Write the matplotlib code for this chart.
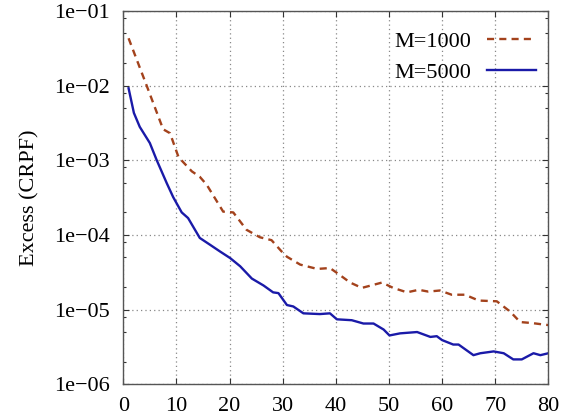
import matplotlib
matplotlib.use("Agg")
import matplotlib.pyplot as plt
from matplotlib.ticker import FuncFormatter, LogLocator

# values
x_m1000 = [1, 4.4, 7.5, 8.8, 10.4, 12.9, 14.4, 15.7, 18.8, 20.7, 23.2, 25.7, 27.9,
           29.8, 30.8, 33.3, 36.5, 38.9, 40.2, 42.7, 44.9, 48.7, 50.8, 53.4, 55.6,
           57.4, 59.6, 61.8, 64.3, 66.9, 70.3, 72.8, 74.7, 76.9, 79.1, 80]
y_m1000 = [4.3e-2, 1.0e-2, 2.6e-3, 2.3e-3, 1.1e-3, 7.1e-4, 6.0e-4, 4.7e-4, 2.05e-4,
           2.0e-4, 1.17e-4, 9.3e-5, 8.5e-5, 6.0e-5, 5.1e-5, 4.0e-5, 3.5e-5, 3.6e-5,
           3.1e-5, 2.3e-5, 1.95e-5, 2.3e-5, 1.95e-5, 1.7e-5, 1.84e-5, 1.74e-5,
           1.8e-5, 1.58e-5, 1.58e-5, 1.32e-5, 1.29e-5, 9.4e-6, 6.8e-6, 6.6e-6,
           6.3e-6, 6.2e-6]

x_m5000 = [1, 2, 3.1, 5.0, 6.3, 8.2, 9.4, 11.0, 12.2, 14.4, 16.3, 18.2, 20.1, 22.0,
           24.2, 26.4, 28.2, 29.2, 30.8, 32.0, 33.9, 37.0, 38.9, 40.2, 43.0, 45.2,
           47.1, 49.0, 50.1, 52.1, 55.3, 57.8, 59.0, 60.0, 62.1, 63.1, 65.9, 67.2,
           69.7, 71.6, 73.4, 75.0, 77.2, 78.5, 80]
y_m5000 = [9.2e-3, 4.3e-3, 2.8e-3, 1.7e-3, 1.0e-3, 4.9e-4, 3.2e-4, 2.0e-4, 1.68e-4,
           9.1e-5, 7.4e-5, 6.0e-5, 4.9e-5, 3.8e-5, 2.6e-5, 2.1e-5, 1.7e-5, 1.66e-5,
           1.15e-5, 1.1e-5, 8.9e-6, 8.7e-6, 8.9e-6, 7.4e-6, 7.2e-6, 6.5e-6, 6.5e-6,
           5.4e-6, 4.5e-6, 4.8e-6, 5.0e-6, 4.3e-6, 4.4e-6, 3.9e-6, 3.4e-6, 3.4e-6,
           2.45e-6, 2.6e-6, 2.75e-6, 2.6e-6, 2.15e-6, 2.15e-6, 2.6e-6, 2.45e-6, 2.6e-6]

x_ticks = [0, 10, 20, 30, 40, 50, 60, 70, 80]
y_ticks = [1e-6, 1e-5, 1e-4, 1e-3, 1e-2, 1e-1]

plt.rcParams['font.family'] = ['Liberation Serif', 'DejaVu Serif']
plt.rcParams['font.size'] = 16

fig = plt.figure(figsize=(5.76, 4.19), dpi=100)
ax = fig.add_axes([0.214, 0.083, 0.738, 0.891])

ax.plot(x_m1000, y_m1000, color='#a3421c', lw=1.7, dashes=(3, 2.2), label='M=1000')
ax.plot(x_m5000, y_m5000, color='#1a1aa8', lw=1.7, label='M=5000')

ax.set_yscale('log')
ax.set_xlim(0, 80)
ax.set_ylim(1e-6, 1e-1)
ax.set_xticks(x_ticks)
ax.set_yticks(y_ticks)
ax.yaxis.set_minor_locator(LogLocator(base=10, subs=(2, 5, 8)))
ax.yaxis.set_minor_formatter(FuncFormatter(lambda v, p: ''))
ax.yaxis.set_major_formatter(FuncFormatter(lambda v, p: '{:.0e}'.format(v).replace('-', '\u2212')))

ax.tick_params(which='both', direction='in', top=True, right=True, colors='#333333',
               labelcolor='black')
ax.tick_params(which='major', length=4, width=0.8)
ax.tick_params(which='minor', length=2.5, width=0.8)
ax.tick_params(axis='y', pad=10)
ax.tick_params(axis='x', pad=9)
ax.grid(True, which='major', color='#888888', ls=(0, (1, 2.5)), lw=0.9)
for s in ax.spines.values():
    s.set_color('#555555')
    s.set_linewidth(1.0)

ax.set_ylabel('Excess (CRPF)', labelpad=10.5)

ax.legend(loc='upper right', bbox_to_anchor=(1.0, 0.977), frameon=False,
          markerfirst=False, handlelength=2.2, handletextpad=0.7,
          labelspacing=0.45, borderaxespad=0, borderpad=0.55)

fig.savefig('out.png', dpi=100)
